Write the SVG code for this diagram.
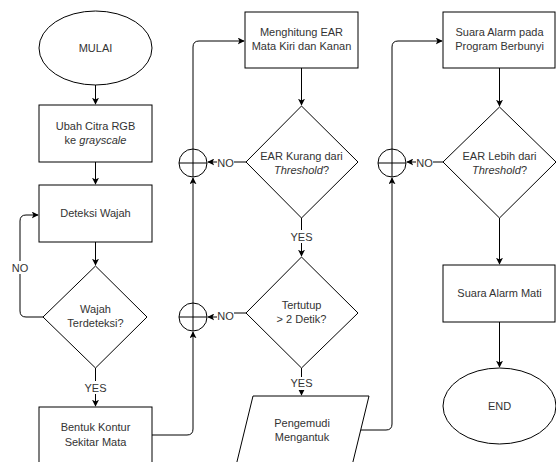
<svg xmlns="http://www.w3.org/2000/svg" width="556" height="462" viewBox="0 0 556 462">
<style>
.s{fill:#fff;stroke:#000;stroke-width:1}
.c{fill:none;stroke:#000;stroke-width:1}
.t{font-family:"Liberation Sans",Arial,sans-serif;font-size:11px;fill:#333;text-anchor:middle}
.l{font-family:"Liberation Sans",Arial,sans-serif;font-size:11px;fill:#333;text-anchor:middle}
.bg{fill:#fff;stroke:none}
</style>
<defs>
<marker id="a" viewBox="0 0 10 10" refX="9" refY="5" markerWidth="7" markerHeight="7" orient="auto" markerUnits="userSpaceOnUse">
<path d="M0,0 L10,5 L0,10 L2.5,5 Z" fill="#000"/>
</marker>
</defs>
<rect width="556" height="462" fill="#fff"/>
<g id="connectors">
<path class="c" d="M95.5 85 V104" marker-end="url(#a)"/>
<path class="c" d="M95.5 162 V184" marker-end="url(#a)"/>
<path class="c" d="M95.5 242 V265" marker-end="url(#a)"/>
<path class="c" d="M95.5 368 V406" marker-end="url(#a)"/>
<path class="c" d="M43 317 H26 Q20 317 20 311 V221 Q20 215 26 215 H38" marker-end="url(#a)"/>
<path class="c" d="M152 435 H187 Q193 435 193 429 V332" marker-end="url(#a)"/>
<path class="c" d="M193 303 V178" marker-end="url(#a)"/>
<path class="c" d="M193 149 V47 Q193 41 199 41 H244" marker-end="url(#a)"/>
<path class="c" d="M301.5 68 V105" marker-end="url(#a)"/>
<path class="c" d="M246 162 H208" marker-end="url(#a)"/>
<path class="c" d="M301.5 218 V256" marker-end="url(#a)"/>
<path class="c" d="M246 313 H226 L222 317 H208" marker-end="url(#a)"/>
<path class="c" d="M301.5 368 V395" marker-end="url(#a)"/>
<path class="c" d="M360 430 H386 Q392 430 392 424 V178" marker-end="url(#a)"/>
<path class="c" d="M392 149 V47 Q392 41 398 41 H442" marker-end="url(#a)"/>
<path class="c" d="M499.5 68 V106" marker-end="url(#a)"/>
<path class="c" d="M443 162 H407" marker-end="url(#a)"/>
<path class="c" d="M499.5 218 V264" marker-end="url(#a)"/>
<path class="c" d="M499.5 322 V367" marker-end="url(#a)"/>
<rect class="bg" x="11" y="261" width="18" height="13"/>
<text class="l" x="20" y="272">NO</text>
<rect class="bg" x="84" y="381" width="23" height="13"/>
<text class="l" x="95.5" y="392">YES</text>
<rect class="bg" x="217" y="156" width="17" height="13"/>
<text class="l" x="225.5" y="167">NO</text>
<rect class="bg" x="290" y="230" width="23" height="13"/>
<text class="l" x="301.5" y="241">YES</text>
<rect class="bg" x="217" y="309" width="17" height="13"/>
<text class="l" x="225.5" y="320">NO</text>
<rect class="bg" x="290" y="377" width="23" height="13"/>
<text class="l" x="301.5" y="387">YES</text>
<rect class="bg" x="416" y="156" width="17" height="13"/>
<text class="l" x="424.5" y="167">NO</text>
</g>
<g id="mulai">
<ellipse class="s" cx="95.5" cy="48" rx="56.5" ry="37"/>
<text class="t" x="95.5" y="52">MULAI</text>
</g>
<g id="ubah">
<rect class="s" x="39" y="105" width="113" height="57"/>
<text class="t" x="95.5" y="130">Ubah Citra RGB</text>
<text class="t" x="95.5" y="144">ke <tspan font-style="italic">grayscale</tspan></text>
</g>
<g id="deteksi">
<rect class="s" x="39" y="185" width="113" height="57"/>
<text class="t" x="95.5" y="217">Deteksi Wajah</text>
</g>
<g id="wajah">
<path class="s" d="M95.5 266 L147 317 L95.5 368 L43 317 Z"/>
<text class="t" x="95.5" y="313">Wajah</text>
<text class="t" x="95.5" y="327">Terdeteksi?</text>
</g>
<g id="bentuk">
<rect class="s" x="39" y="407" width="113" height="57"/>
<text class="t" x="95.5" y="431">Bentuk Kontur</text>
<text class="t" x="95.5" y="446">Sekitar Mata</text>
</g>
<g id="sum1">
<circle class="s" cx="193" cy="163" r="14"/>
<path class="c" d="M179 163 H207 M193 149 V177"/>
</g>
<g id="sum2">
<circle class="s" cx="193" cy="317" r="14"/>
<path class="c" d="M179 317 H207 M193 303 V331"/>
</g>
<g id="menghitung">
<rect class="s" x="245" y="12" width="113" height="56"/>
<text class="t" x="301.5" y="36">Menghitung EAR</text>
<text class="t" x="301.5" y="50">Mata Kiri dan Kanan</text>
</g>
<g id="kurang">
<path class="s" d="M301.5 106 L358 162 L301.5 218 L246 162 Z"/>
<text class="t" x="301.5" y="160">EAR Kurang dari</text>
<text class="t" x="301.5" y="174"><tspan font-style="italic">Threshold</tspan>?</text>
</g>
<g id="tertutup">
<path class="s" d="M301.5 257 L358 313 L301.5 368 L246 313 Z"/>
<text class="t" x="301.5" y="309">Tertutup</text>
<text class="t" x="301.5" y="323">&gt; 2 Detik?</text>
</g>
<g id="pengemudi">
<path class="s" d="M253 396 L369 396 L349 478 L233 478 Z"/>
<text class="t" x="302" y="427">Pengemudi</text>
<text class="t" x="302" y="441">Mengantuk</text>
</g>
<g id="sum3">
<circle class="s" cx="392" cy="163" r="14"/>
<path class="c" d="M378 163 H406 M392 149 V177"/>
</g>
<g id="suara">
<rect class="s" x="443" y="12" width="112" height="56"/>
<text class="t" x="499.5" y="36">Suara Alarm pada</text>
<text class="t" x="499.5" y="50">Program Berbunyi</text>
</g>
<g id="lebih">
<path class="s" d="M499.5 107 L556 162 L499.5 218 L443 162 Z"/>
<text class="t" x="499.5" y="160">EAR Lebih dari</text>
<text class="t" x="499.5" y="174"><tspan font-style="italic">Threshold</tspan>?</text>
</g>
<g id="mati">
<rect class="s" x="443" y="265" width="112" height="57"/>
<text class="t" x="499.5" y="297">Suara Alarm Mati</text>
</g>
<g id="end">
<ellipse class="s" cx="499.5" cy="406" rx="56.5" ry="38"/>
<text class="t" x="499.5" y="410">END</text>
</g>
</svg>
